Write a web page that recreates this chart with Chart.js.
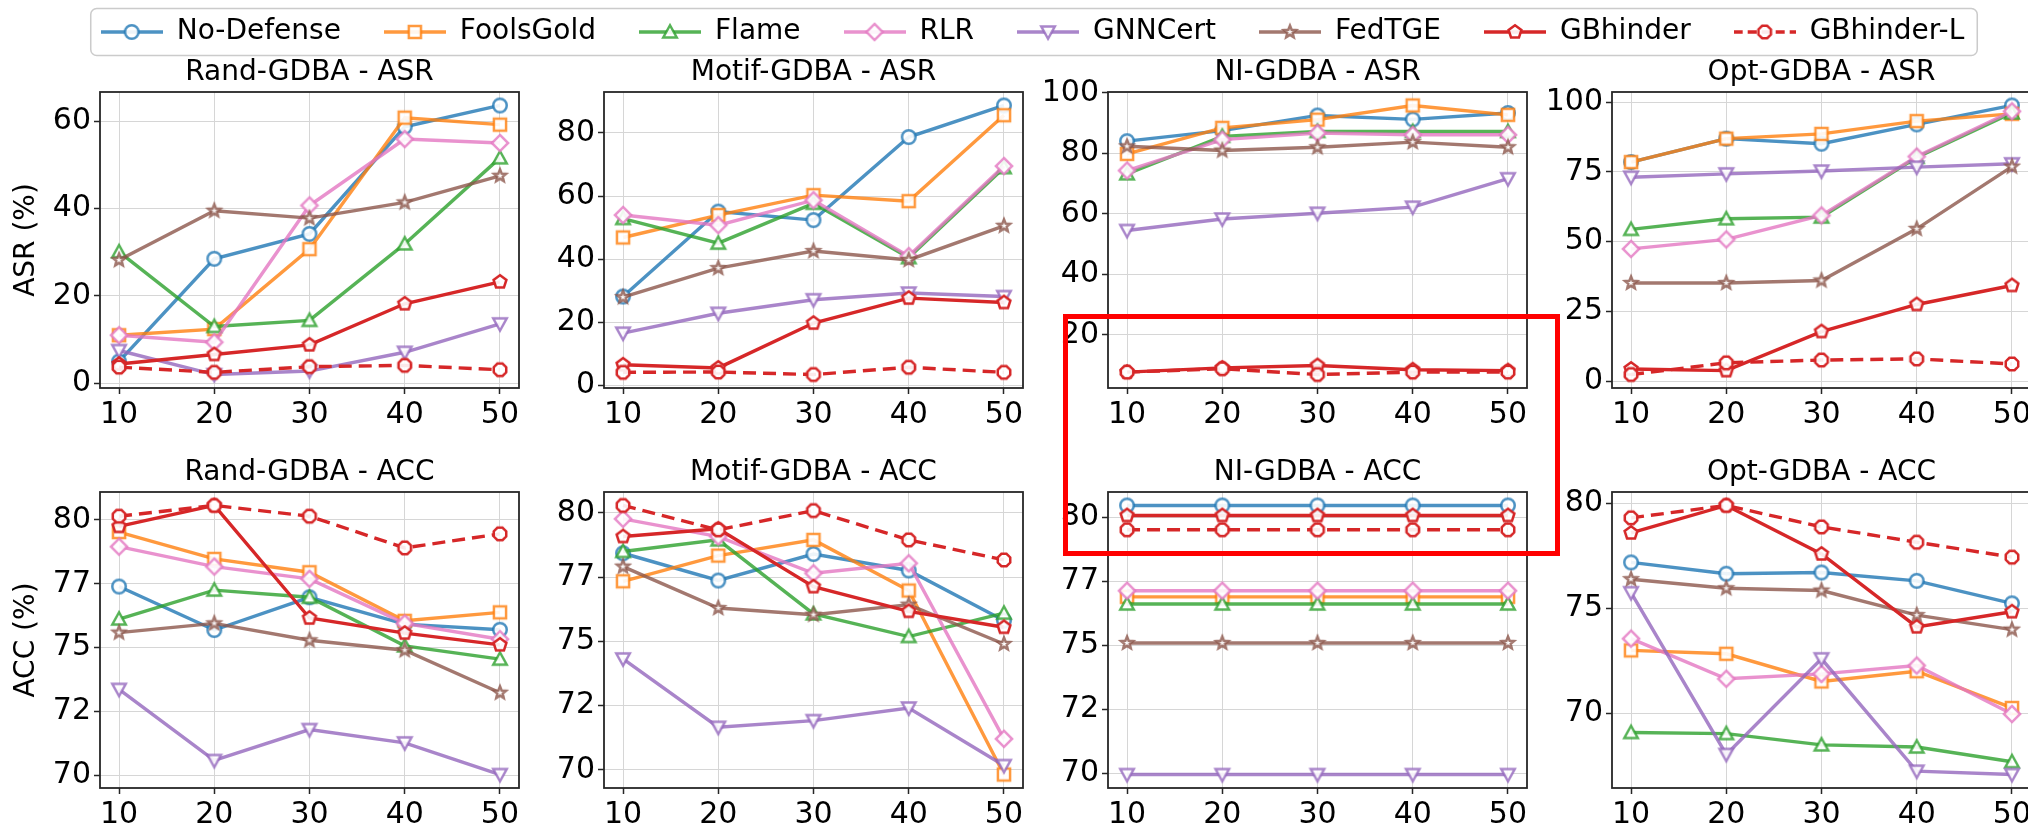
<!DOCTYPE html>
<html>
<head>
<meta charset="utf-8">
<script src="https://cdn.jsdelivr.net/npm/chart.js@4.4.0/dist/chart.umd.min.js"></script>
<style>
  html, body { margin: 0; padding: 0; background: #fff; overflow: hidden; }
  #page { position: relative; width: 2028px; height: 827px; overflow: hidden; background: #fff; }
  #page canvas { position: absolute; }
  #highlight { position: absolute; left: 1063px; top: 314px; width: 497px; height: 242px;
               box-sizing: border-box; border: 5px solid #ff0000; z-index: 10; }
</style>
</head>
<body>
<div id="page"><div id="highlight"></div></div>
<script>
// ---- data ----
const budgets = [10, 20, 30, 40, 50];
const methods = ['No-Defense', 'FoolsGold', 'Flame', 'RLR', 'GNNCert', 'FedTGE', 'GBhinder', 'GBhinder-L'];

// rows follow the order of `methods`
const randASR = [
  [5.0, 28.5, 34.2, 58.7, 63.6],
  [11.0, 12.4, 30.7, 60.8, 59.2],
  [30.1, 13.0, 14.4, 31.9, 51.6],
  [11.0, 9.4, 40.7, 55.9, 55.0],
  [7.5, 2.0, 2.8, 7.1, 13.6],
  [28.2, 39.5, 37.8, 41.4, 47.5],
  [4.4, 6.6, 8.8, 18.2, 23.2],
  [3.7, 2.5, 3.8, 4.1, 3.1]
];
const motifASR = [
  [28.2, 55.1, 52.4, 78.7, 88.7],
  [46.9, 54.0, 60.3, 58.4, 85.6],
  [52.9, 45.1, 57.7, 40.5, 69.0],
  [54.0, 50.8, 58.7, 41.0, 69.5],
  [16.6, 22.9, 27.2, 29.3, 28.2],
  [28.0, 37.2, 42.6, 39.8, 50.6],
  [6.6, 5.6, 19.8, 27.7, 26.3],
  [4.2, 4.3, 3.5, 5.8, 4.2]
];
const niASR = [
  [84.0, 87.5, 92.5, 91.2, 93.3],
  [79.8, 88.4, 91.1, 95.8, 92.7],
  [73.2, 85.6, 87.2, 87.2, 87.2],
  [74.3, 84.5, 86.7, 86.1, 86.1],
  [54.5, 58.3, 60.2, 62.2, 71.6],
  [82.3, 80.9, 82.0, 83.7, 82.0],
  [7.7, 9.1, 9.9, 8.5, 8.2],
  [7.7, 8.8, 6.9, 7.7, 7.7]
];
const optASR = [
  [78.5, 86.9, 85.1, 92.0, 98.8],
  [78.5, 86.9, 88.6, 93.2, 95.8],
  [54.4, 58.2, 58.8, 80.2, 96.1],
  [47.4, 50.8, 59.4, 80.5, 96.7],
  [73.1, 74.3, 75.3, 76.7, 77.9],
  [35.2, 35.2, 36.1, 54.6, 76.9],
  [4.4, 3.8, 17.8, 27.5, 34.3],
  [2.4, 6.6, 7.6, 8.0, 6.2]
];
const randACC = [
  [77.39, 75.69, 76.97, 75.92, 75.70],
  [79.52, 78.47, 77.95, 76.05, 76.38],
  [76.12, 77.25, 76.97, 75.07, 74.55],
  [78.95, 78.17, 77.69, 75.95, 75.33],
  [73.37, 70.59, 71.80, 71.28, 70.04],
  [75.59, 75.95, 75.29, 74.90, 73.24],
  [79.74, 80.56, 76.16, 75.57, 75.11],
  [80.14, 80.56, 80.14, 78.90, 79.45]
];
const motifACC = [
  [78.43, 77.37, 78.40, 77.76, 75.81],
  [77.34, 78.34, 78.95, 76.98, 69.82],
  [78.50, 78.95, 76.07, 75.19, 76.10],
  [79.77, 79.08, 77.65, 78.04, 71.21],
  [74.32, 71.66, 71.92, 72.41, 70.17],
  [77.91, 76.30, 76.04, 76.43, 74.90],
  [79.08, 79.38, 77.13, 76.17, 75.55],
  [80.29, 79.34, 80.09, 78.95, 78.17]
];
const niACC = [
  [80.47, 80.47, 80.47, 80.47, 80.47],
  [76.90, 76.90, 76.90, 76.90, 76.90],
  [76.62, 76.62, 76.62, 76.62, 76.62],
  [77.14, 77.14, 77.14, 77.14, 77.14],
  [69.96, 69.96, 69.96, 69.96, 69.96],
  [75.10, 75.10, 75.10, 75.10, 75.10],
  [80.08, 80.08, 80.08, 80.08, 80.08],
  [79.52, 79.52, 79.52, 79.52, 79.52]
];
const optACC = [
  [77.19, 76.65, 76.71, 76.31, 75.24],
  [73.00, 72.84, 71.52, 72.01, 70.26],
  [69.09, 69.04, 68.50, 68.40, 67.70],
  [73.56, 71.65, 71.88, 72.28, 69.97],
  [75.75, 68.05, 72.60, 67.25, 67.09],
  [76.39, 75.96, 75.85, 74.68, 73.99],
  [78.59, 79.90, 77.59, 74.12, 74.84],
  [79.31, 79.90, 78.88, 78.15, 77.44]
];

// tick values (labels are truncated to integers, as in the original)
const xTicks = [10, 20, 30, 40, 50];
const randAsrTicks = [0, 20, 40, 60];
const motifAsrTicks = [0, 20, 40, 60, 80];
const niAsrTicks = [20, 40, 60, 80, 100];
const optAsrTicks = [0, 25, 50, 75, 100];
const accTicks = [70, 72.5, 75, 77.5, 80];
const optAccTicks = [70, 75, 80];

const titles = ['Rand-GDBA - ASR', 'Motif-GDBA - ASR', 'NI-GDBA - ASR', 'Opt-GDBA - ASR',
                'Rand-GDBA - ACC', 'Motif-GDBA - ACC', 'NI-GDBA - ACC', 'Opt-GDBA - ACC'];

// ---- styling ----
const FONT = "'DejaVu Sans', sans-serif";
const colors = ['#1f77b4', '#ff7f0e', '#2ca02c', '#e377c2', '#9467bd', '#8c564b', '#d62728', '#d62728'];
const alphas = [0.8, 0.8, 0.8, 0.8, 0.8, 0.8, 1, 1];
const shapes = ['circle', 'square', 'triUp', 'diamond', 'triDown', 'star', 'pentagon', 'octagon'];
const dashes = [[], [], [], [], [], [], [], [13, 7]];
const LW = 3.4;

function rgba(hex, a) {
  const n = parseInt(hex.slice(1), 16);
  return `rgba(${n >> 16},${(n >> 8) & 255},${n & 255},${a})`;
}

function polygon(g, cx, cy, r, n, rot) {
  for (let k = 0; k < n; k++) {
    const t = rot + k * 2 * Math.PI / n;
    const px = cx + r * Math.sin(t), py = cy - r * Math.cos(t);
    k ? g.lineTo(px, py) : g.moveTo(px, py);
  }
  g.closePath();
}

function shapePath(g, shape, cx, cy, s) {
  const r = s / 2;
  g.beginPath();
  if (shape === 'circle') g.arc(cx, cy, r, 0, Math.PI * 2);
  else if (shape === 'square') g.rect(cx - r * 0.9, cy - r * 0.9, r * 1.8, r * 1.8);
  else if (shape === 'triUp') { g.moveTo(cx, cy - r); g.lineTo(cx - r, cy + r * 0.8); g.lineTo(cx + r, cy + r * 0.8); g.closePath(); }
  else if (shape === 'triDown') { g.moveTo(cx, cy + r); g.lineTo(cx - r, cy - r * 0.8); g.lineTo(cx + r, cy - r * 0.8); g.closePath(); }
  else if (shape === 'diamond') polygon(g, cx, cy, r * 1.2, 4, 0);
  else if (shape === 'pentagon') polygon(g, cx, cy, r, 5, 0);
  else if (shape === 'octagon') polygon(g, cx, cy, r, 8, Math.PI / 8);
  else if (shape === 'star') {
    for (let k = 0; k < 10; k++) {
      const rr = k % 2 ? r * 0.42 : r * 0.95;
      const t = k * Math.PI / 5;
      const px = cx + rr * Math.sin(t), py = cy - rr * Math.cos(t);
      k ? g.lineTo(px, py) : g.moveTo(px, py);
    }
    g.closePath();
  }
}

const MS = 13.5, MEW = 2.5;
function markerCanvas(i) {
  const size = 26;
  const c = document.createElement('canvas');
  c.width = size; c.height = size;
  const g = c.getContext('2d');
  shapePath(g, shapes[i], size / 2, size / 2, MS);
  g.fillStyle = 'rgba(255,255,255,0.9)';
  g.fill();
  g.lineWidth = MEW;
  g.lineJoin = 'miter';
  g.strokeStyle = rgba(colors[i], alphas[i]);
  g.stroke();
  return c;
}

function legendSample(i) {
  const c = document.createElement('canvas');
  c.width = 62; c.height = 26;
  const g = c.getContext('2d');
  g.strokeStyle = rgba(colors[i], alphas[i]);
  g.lineWidth = LW;
  g.setLineDash(dashes[i].length ? [9, 5] : []);
  g.beginPath(); g.moveTo(0, 13); g.lineTo(62, 13); g.stroke();
  g.setLineDash([]);
  g.drawImage(markerCanvas(i), 31 - 13, 0);
  return c;
}

// matplotlib-like autoscale: 5% margins around the data
function autoRange(rows) {
  const vals = rows.flat();
  const lo = Math.min(...vals), hi = Math.max(...vals), m = (hi - lo) * 0.05;
  return [lo - m, hi + m];
}

const framePlugin = {
  id: 'frame',
  afterDraw(chart) {
    const a = chart.chartArea, g = chart.ctx;
    g.save();
    g.strokeStyle = '#262626';
    g.lineWidth = 1.8;
    g.strokeRect(a.left, a.top, a.right - a.left, a.bottom - a.top);
    g.restore();
  }
};

const panels = [
  { rows: randASR, ticks: randAsrTicks, ylabel: 'ASR (%)' },
  { rows: motifASR, ticks: motifAsrTicks },
  { rows: niASR, ticks: niAsrTicks },
  { rows: optASR, ticks: optAsrTicks },
  { rows: randACC, ticks: accTicks, ylabel: 'ACC (%)' },
  { rows: motifACC, ticks: accTicks },
  { rows: niACC, ticks: accTicks },
  { rows: optACC, ticks: optAccTicks }
];

// layout of the grid of subplots
const colLefts = [100, 604, 1108, 1612];
const rowTops = [92, 492];
const PLOT_W = 419, PLOT_H = 296, Y_W = 92, PAD_R = 40, TITLE_H = 39, X_H = 52;
const page = document.getElementById('page');

panels.forEach((p, idx) => {
  const col = idx % 4, row = Math.floor(idx / 4);
  const cv = document.createElement('canvas');
  cv.width = Y_W + PLOT_W + PAD_R;
  cv.height = TITLE_H + PLOT_H + X_H;
  cv.style.left = (colLefts[col] - Y_W) + 'px';
  cv.style.top = (rowTops[row] - TITLE_H) + 'px';
  page.appendChild(cv);

  const [ymin, ymax] = autoRange(p.rows);
  const datasets = p.rows.map((vals, i) => ({
    label: methods[i],
    data: vals.map((v, k) => ({ x: budgets[k], y: v })),
    borderColor: rgba(colors[i], alphas[i]),
    borderWidth: LW,
    borderDash: dashes[i],
    pointStyle: markerCanvas(i),
    pointRadius: 7,
    tension: 0,
    order: methods.length - i
  }));

  new Chart(cv, {
    type: 'line',
    data: { datasets },
    options: {
      responsive: false,
      animation: false,
      devicePixelRatio: 1,
      layout: { padding: { left: 0, right: PAD_R, top: 0, bottom: 0 } },
      plugins: {
        legend: { display: false },
        tooltip: { enabled: false },
        title: {
          display: true, fullSize: false, text: titles[idx], color: '#000',
          font: { family: FONT, size: 28, weight: 'normal' },
          padding: { top: 3, bottom: TITLE_H - 33.6 - 3 }
        }
      },
      scales: {
        x: {
          type: 'linear', min: 8, max: 52,
          afterBuildTicks: s => { s.ticks = xTicks.map(v => ({ value: v })); },
          afterFit: s => { s.height = X_H; },
          ticks: { color: '#000', font: { family: FONT, size: 30 }, padding: 3, autoSkip: false, maxRotation: 0,
                   callback: v => String(Math.trunc(v)) },
          grid: { color: '#d6d6d6', lineWidth: 1, tickColor: '#262626', tickLength: 6, tickWidth: 1.5 },
          border: { display: false }
        },
        y: {
          type: 'linear', min: ymin, max: ymax,
          afterBuildTicks: s => { s.ticks = p.ticks.map(v => ({ value: v })); },
          afterFit: s => { s.width = Y_W; },
          ticks: { color: '#000', font: { family: FONT, size: 30 }, padding: 3, autoSkip: false,
                   callback: v => String(Math.trunc(v)) },
          grid: { color: '#d6d6d6', lineWidth: 1, tickColor: '#262626', tickLength: 6, tickWidth: 1.5 },
          border: { display: false },
          title: { display: !!p.ylabel, text: p.ylabel || '', color: '#000',
                   font: { family: FONT, size: 28 }, padding: { top: 2, bottom: 0 } }
        }
      }
    },
    plugins: [framePlugin]
  });
});

// ---- shared legend across the top ----
const legendFrame = {
  id: 'legendFrame',
  afterDraw(chart) {
    const hb = chart.legend.legendHitBoxes;
    if (!hb || !hb.length) return;
    const last = hb[hb.length - 1];
    const x0 = hb[0].left - 10, x1 = last.left + last.width + 13;
    const cy = hb[0].top + hb[0].height / 2;
    const g = chart.ctx;
    g.save();
    g.strokeStyle = 'rgba(190,190,190,0.8)';
    g.lineWidth = 1.5;
    g.beginPath();
    g.roundRect(x0, cy - 23.5, x1 - x0, 47, 6);
    g.stroke();
    g.restore();
  }
};

const lc = document.createElement('canvas');
lc.width = 2028; lc.height = 240;
lc.style.left = '0px';
lc.style.top = '-25px';
page.appendChild(lc);

new Chart(lc, {
  type: 'line',
  data: { datasets: methods.map((m, i) => ({ label: m, data: [], borderColor: colors[i] })) },
  options: {
    responsive: false,
    animation: false,
    devicePixelRatio: 1,
    layout: { padding: { left: 37 } },
    scales: { x: { display: false }, y: { display: false } },
    plugins: {
      tooltip: { enabled: false },
      legend: {
        display: true, position: 'top', align: 'center',
        labels: {
          usePointStyle: true, pointStyleWidth: 62, padding: 43, color: '#000',
          font: { family: FONT, size: 28 },
          generateLabels: chart => chart.data.datasets.map((d, i) => ({
            text: d.label, pointStyle: legendSample(i), fillStyle: '#fff',
            strokeStyle: colors[i], lineWidth: 0, hidden: false, datasetIndex: i
          }))
        }
      }
    }
  },
  plugins: [legendFrame]
});
</script>
</body>
</html>
